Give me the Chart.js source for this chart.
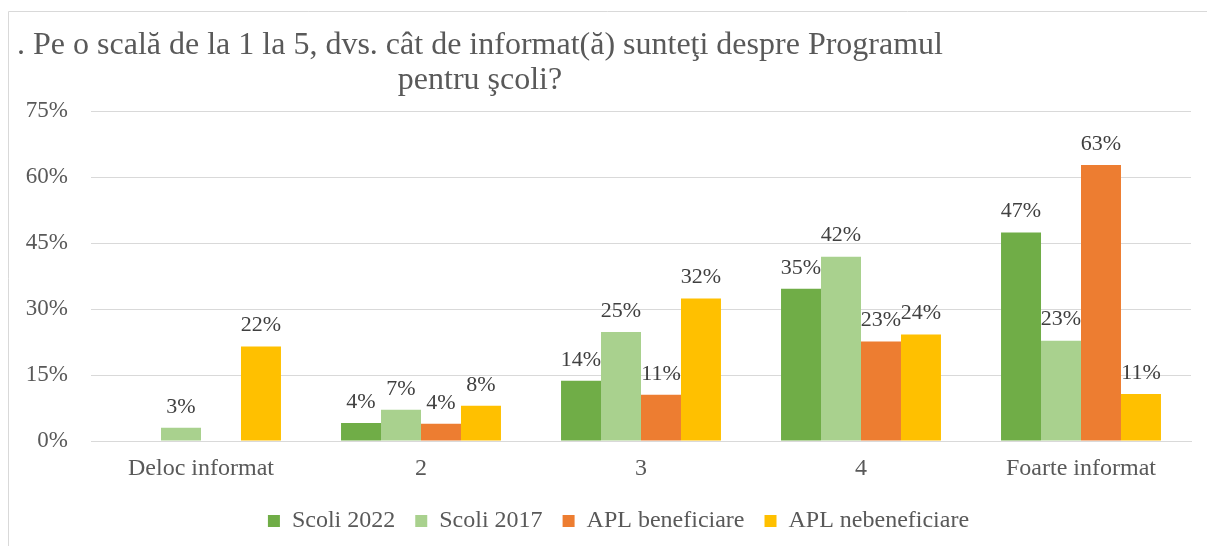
<!DOCTYPE html>
<html lang="ro">
<head>
    <meta charset="UTF-8" />
    <title>Programul pentru scoli</title>
    <style>
        body { margin: 0; background: #fff; }
        #wrap { width: 1207px; height: 546px; position: relative; }
    </style>
</head>
<body>
    <div id="wrap"><canvas id="chart" width="1207" height="546"></canvas></div>

    <script src="https://cdn.jsdelivr.net/npm/chart.js@4.4.1/dist/chart.umd.min.js"></script>
    <script>
        // date
        const categories = ["Deloc informat", "2", "3", "4", "Foarte informat"];
        const scoli2022 = [null, 4.1, 13.7, 34.6, 47.4];
        const scoli2017 = [3.0, 7.1, 24.8, 41.9, 22.8];
        const aplBeneficiare = [null, 3.9, 10.5, 22.6, 62.7];
        const aplNebeneficiare = [21.5, 8.0, 32.4, 24.2, 10.7];
        const yTicks = [0, 15, 30, 45, 60, 75];
        const titleLines = [". Pe o scală de la 1 la 5, dvs. cât de informat(ă) sunteţi despre Programul", "pentru şcoli?"];

        const serif = "'Liberation Serif', 'Times New Roman', serif";
        const textColor = "#595959";

        // chenar + titlu
        const framePlugin = {
            id: "frame",
            afterLayout(chart) {
                // legenda e putin spre dreapta in original
                chart.legend.left += 23;
                chart.legend.right += 23;
            },
            beforeDraw(chart) {
                const ctx = chart.ctx;
                ctx.save();
                ctx.strokeStyle = "#d9d9d9";
                ctx.lineWidth = 1;
                ctx.beginPath();
                ctx.moveTo(8.5, chart.height);
                ctx.lineTo(8.5, 11.5);
                ctx.lineTo(chart.width, 11.5);
                ctx.stroke();

                ctx.fillStyle = textColor;
                ctx.font = "32px " + serif;
                ctx.textAlign = "center";
                ctx.textBaseline = "alphabetic";
                ctx.fillText(titleLines[0], 480, 54);
                ctx.fillText(titleLines[1], 480, 89);
                ctx.restore();
            }
        };

        // etichete de valori deasupra barelor
        const labelPlugin = {
            id: "valueLabels",
            afterDatasetsDraw(chart) {
                const ctx = chart.ctx;
                ctx.save();
                ctx.fillStyle = "#404040";
                ctx.font = "22px " + serif;
                ctx.textAlign = "center";
                ctx.textBaseline = "bottom";
                chart.data.datasets.forEach((ds, i) => {
                    chart.getDatasetMeta(i).data.forEach((bar, j) => {
                        const v = ds.data[j];
                        if (v == null) return;
                        ctx.fillText(Math.round(v) + "%", bar.x, bar.y - 10);
                    });
                });
                ctx.restore();
            }
        };

        const ctx = document.getElementById("chart").getContext("2d");
        new Chart(ctx, {
            type: "bar",
            data: {
                labels: categories,
                datasets: [
                    { label: "Scoli 2022", data: scoli2022, backgroundColor: "#70AD47" },
                    { label: "Scoli 2017", data: scoli2017, backgroundColor: "#A9D18E" },
                    { label: "APL beneficiare", data: aplBeneficiare, backgroundColor: "#ED7D31" },
                    { label: "APL nebeneficiare", data: aplNebeneficiare, backgroundColor: "#FFC000" }
                ]
            },
            options: {
                responsive: false,
                animation: false,
                layout: { padding: { top: 111, right: 16, left: 0, bottom: 3 } },
                datasets: { bar: { categoryPercentage: 0.727, barPercentage: 1.0 } },
                scales: {
                    x: {
                        afterFit(scale) { scale.height = 48; },
                        grid: { display: false, drawTicks: false },
                        border: { color: "#d9d9d9" },
                        ticks: { color: textColor, font: { family: serif, size: 24 }, padding: 13 }
                    },
                    y: {
                        min: 0,
                        max: 75,
                        afterFit(scale) { scale.width = 91; },
                        afterBuildTicks(scale) { scale.ticks = yTicks.map(v => ({ value: v })); },
                        border: { display: false },
                        grid: { color: "#d9d9d9", drawTicks: false },
                        ticks: {
                            color: textColor,
                            font: { family: serif, size: 23 },
                            padding: 23,
                            callback: v => v + "%"
                        }
                    }
                },
                plugins: {
                    legend: {
                        position: "bottom",
                        labels: {
                            color: textColor,
                            font: { family: serif, size: 24 },
                            boxWidth: 12,
                            boxHeight: 12,
                            padding: 20
                        }
                    },
                    tooltip: { enabled: false }
                }
            },
            plugins: [framePlugin, labelPlugin]
        });
    </script>
</body>
</html>
